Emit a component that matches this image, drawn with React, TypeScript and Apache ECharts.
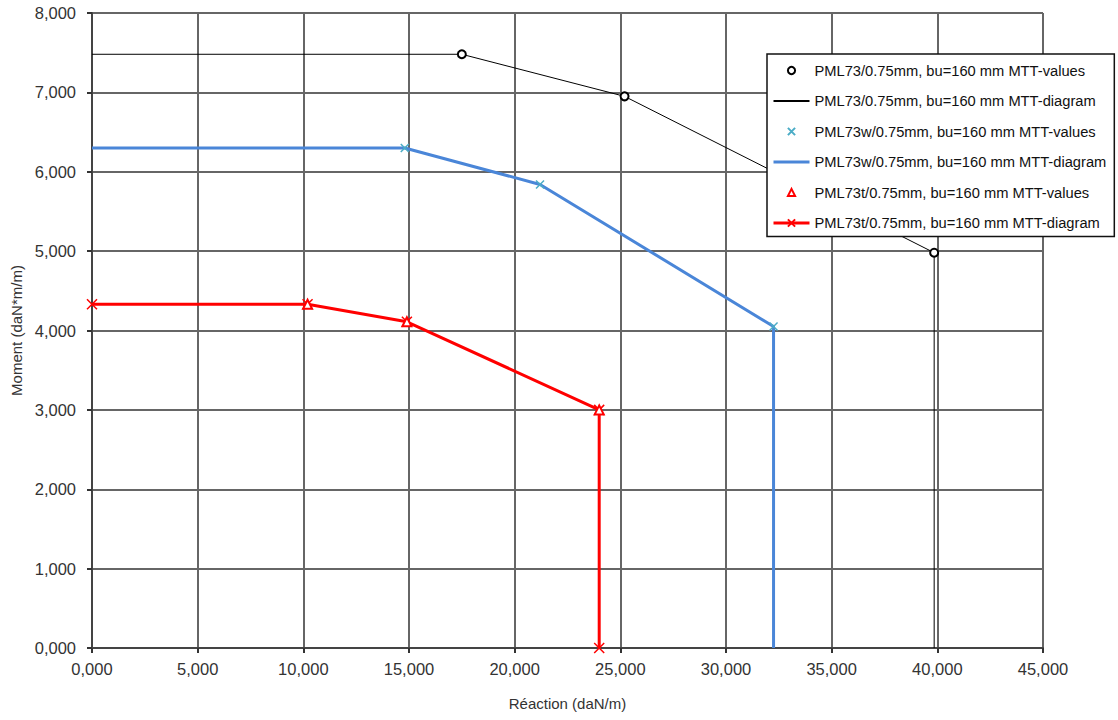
import React, { useEffect, useRef } from "react";
import * as echarts from "echarts";

const SERIES_NAMES = [
  "PML73/0.75mm, bu=160 mm MTT-values",
  "PML73/0.75mm, bu=160 mm MTT-diagram",
  "PML73w/0.75mm, bu=160 mm MTT-values",
  "PML73w/0.75mm, bu=160 mm MTT-diagram",
  "PML73t/0.75mm, bu=160 mm MTT-values",
  "PML73t/0.75mm, bu=160 mm MTT-diagram",
];

const blackValues = [
  [17500, 7480],
  [25200, 6950],
  [39850, 4980],
];
const blackDiagram = [
  [0, 7480],
  [17500, 7480],
  [25200, 6950],
  [39850, 4980],
  [39850, 0],
];
const blueValues = [
  [14800, 6300],
  [21200, 5840],
  [32250, 4050],
];
const blueDiagram = [
  [0, 6300],
  [14800, 6300],
  [21200, 5840],
  [32250, 4050],
  [32250, 0],
];
const redValues = [
  [10200, 4330],
  [14900, 4110],
  [24000, 3000],
];
const redDiagram = [
  [0, 4330],
  [10200, 4330],
  [14900, 4110],
  [24000, 3000],
  [24000, 0],
];

const X_MIN = 0;
const X_MAX = 45000;
const X_STEP = 5000;
const Y_MIN = 0;
const Y_MAX = 8000;
const Y_STEP = 1000;

const X_NAME = "Réaction (daN/m)";
const Y_NAME = "Moment (daN*m/m)";

const FONT = "'Liberation Sans', Arial, sans-serif";

const fmt = (v: number) => {
  const t = Math.floor(v / 1000);
  const r = String(Math.round(v % 1000)).padStart(3, "0");
  return `${t},${r}`;
};

const CROSS = "path://M0,0L10,10M10,0L0,10";

export default function App() {
  const ref = useRef<HTMLDivElement>(null);
  useEffect(() => {
    if (!ref.current) return;
    const chart = echarts.init(ref.current, undefined, { renderer: "svg" });
    const gridLine = { show: true, lineStyle: { color: "#666", width: 2 } };
    const axisCommon = {
      type: "value" as const,
      axisLine: { show: true, onZero: false, lineStyle: { color: "#444", width: 2 } },
      axisTick: { show: true, length: 5, lineStyle: { color: "#333", width: 2 } },
      splitLine: gridLine,
    };
    chart.setOption({
      animation: false,
      backgroundColor: "#fff",
      textStyle: { fontFamily: FONT },
      grid: { left: 92, top: 13, width: 951, height: 635, containLabel: false },
      xAxis: {
        ...axisCommon,
        min: X_MIN,
        max: X_MAX,
        interval: X_STEP,
        name: X_NAME,
        nameLocation: "middle",
        nameGap: 48,
        nameTextStyle: { fontSize: 15, color: "#333", fontFamily: FONT },
        axisLabel: { formatter: fmt, fontSize: 16.5, color: "#333", margin: 12, fontFamily: FONT },
      },
      yAxis: {
        ...axisCommon,
        min: Y_MIN,
        max: Y_MAX,
        interval: Y_STEP,
        name: Y_NAME,
        nameLocation: "middle",
        nameRotate: 90,
        nameGap: 62,
        nameTextStyle: { fontSize: 15, color: "#333", fontFamily: FONT },
        axisLabel: { formatter: fmt, fontSize: 16.5, color: "#333", margin: 16, fontFamily: FONT },
      },
      legend: {
        orient: "vertical",
        left: 767,
        top: 54,
        padding: [9, 8, 6, 5],
        itemWidth: 36,
        itemHeight: 9,
        itemGap: 15.5,
        backgroundColor: "#fff",
        borderColor: "#111",
        borderWidth: 1.5,
        textStyle: { fontSize: 14.7, color: "#111", fontFamily: FONT },
        data: [
          { name: SERIES_NAMES[0] },
          { name: SERIES_NAMES[1], itemStyle: { opacity: 0 } },
          { name: SERIES_NAMES[2] },
          { name: SERIES_NAMES[3], itemStyle: { opacity: 0 }, lineStyle: { width: 3 } },
          { name: SERIES_NAMES[4] },
          { name: SERIES_NAMES[5], lineStyle: { width: 3 } },
        ],
      },
      series: [
        {
          name: SERIES_NAMES[0],
          type: "line",
          data: blackValues,
          symbol: "emptyCircle",
          symbolSize: 8,
          lineStyle: { opacity: 0, width: 0 },
          itemStyle: { color: "#000", borderColor: "#000", borderWidth: 1.5 },
          z: 5,
        },
        {
          name: SERIES_NAMES[1],
          type: "line",
          data: blackDiagram,
          symbol: "none",
          lineStyle: { color: "#000", width: 1 },
          itemStyle: { color: "#000" },
          z: 2,
        },
        {
          name: SERIES_NAMES[2],
          type: "line",
          data: blueValues,
          symbol: CROSS,
          symbolSize: 8,
          lineStyle: { opacity: 0, width: 0 },
          itemStyle: { color: "#4bacc6", borderColor: "#4bacc6", borderWidth: 1.5 },
          z: 5,
        },
        {
          name: SERIES_NAMES[3],
          type: "line",
          data: blueDiagram,
          symbol: "none",
          lineStyle: { color: "#4a86d8", width: 3 },
          itemStyle: { color: "#4a86d8" },
          z: 2,
        },
        {
          name: SERIES_NAMES[4],
          type: "line",
          data: redValues,
          symbol: "emptyTriangle",
          symbolSize: 9,
          lineStyle: { opacity: 0, width: 0 },
          itemStyle: { color: "#ff0000", borderColor: "#ff0000", borderWidth: 1.5 },
          z: 5,
        },
        {
          name: SERIES_NAMES[5],
          type: "line",
          data: redDiagram,
          symbol: CROSS,
          symbolSize: 10,
          showAllSymbol: true,
          lineStyle: { color: "#ff0000", width: 3 },
          itemStyle: { color: "#ff0000", borderColor: "#ff0000", borderWidth: 1.5 },
          z: 3,
        },
      ],
    });
    return () => chart.dispose();
  }, []);
  return (
    <div
      ref={ref}
      style={{ position: "fixed", left: 0, top: 0, width: 1118, height: 720, background: "#fff" }}
    />
  );
}
